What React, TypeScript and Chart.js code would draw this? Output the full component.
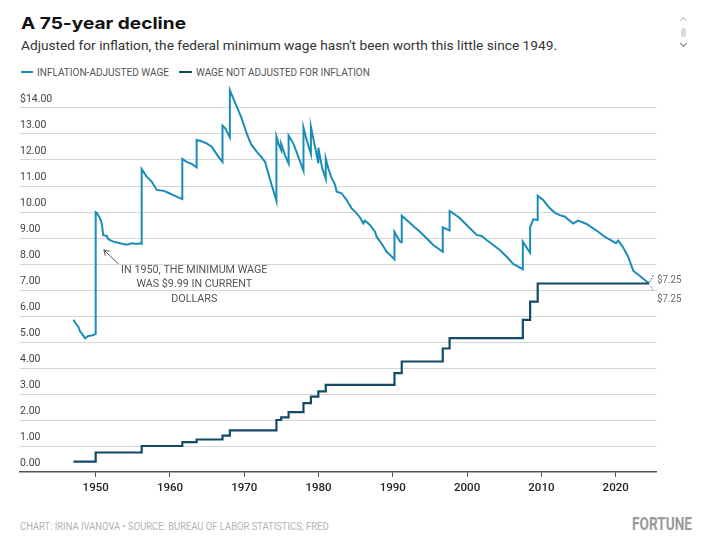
import React, { useEffect, useRef } from 'react';
import { Chart, registerables } from 'chart.js';

Chart.register(...registerables);

// ---------- texts ----------
const TITLE = 'A 75-year decline';
const SUBTITLE = "Adjusted for inflation, the federal minimum wage hasn't been worth this little since 1949.";
const SERIES_NAMES = ['INFLATION-ADJUSTED WAGE', 'WAGE NOT ADJUSTED FOR INFLATION'];
const FOOTER = 'CHART: IRINA IVANOVA • SOURCE: BUREAU OF LABOR STATISTICS; FRED';
const BRAND = 'FORTUNE';
const ANNOTATION_LINES = ['IN 1950, THE MINIMUM WAGE', 'WAS $9.99 IN CURRENT', 'DOLLARS'];
const END_LABEL = '$7.25';

// ---------- data ----------
// Inflation-adjusted federal minimum wage
const adjYears = [
  1947.0, 1947.3, 1947.66, 1947.9, 1948.2, 1948.56, 1949.0, 1949.4, 1949.68, 1950.0,
  1950.0, 1950.13, 1950.58, 1950.81, 1951.02, 1951.48, 1951.7, 1952.37, 1953.27, 1954.17, 1954.85, 1955.52, 1955.96, 1956.19,
  1956.19, 1956.86, 1957.54, 1958.21, 1959.1, 1959.77, 1960.44, 1961.12, 1961.66,
  1961.66, 1962.25, 1962.92, 1963.59,
  1963.59, 1964.04, 1964.94, 1965.61, 1966.06, 1966.5, 1967.07,
  1967.07, 1967.44, 1968.06,
  1968.06, 1968.52, 1969.19, 1969.65, 1970.32, 1970.77, 1970.99, 1971.67, 1972.34, 1972.79, 1973.23, 1973.69, 1974.33,
  1974.33, 1974.67, 1974.97,
  1974.97, 1975.48, 1975.97,
  1975.97, 1976.6, 1977.27, 1977.97,
  1977.97, 1978.4, 1978.97,
  1978.97, 1979.29, 1979.97,
  1979.97, 1980.19, 1980.5, 1980.97,
  1980.97, 1981.31, 1981.76, 1982.21, 1982.44, 1983.11, 1983.78, 1984.45, 1985.13, 1985.6, 1986.02, 1986.24, 1986.92,
  1987.59, 1987.82, 1988.5, 1989.17, 1989.61, 1990.22,
  1990.22, 1990.96, 1991.2,
  1991.2, 1991.86, 1992.75, 1993.65, 1994.55, 1995.44, 1996.72,
  1996.72, 1997.46, 1997.64,
  1997.64, 1998.13, 1999.03, 1999.93, 2001.28, 2001.95, 2002.62, 2003.51, 2004.41, 2005.53, 2006.2, 2006.88, 2007.5,
  2007.5, 2008.22, 2008.48,
  2008.48, 2008.9, 2009.5,
  2009.5, 2010.24, 2011.14, 2011.82, 2012.49, 2013.16, 2014.28, 2014.95, 2016.08, 2016.97, 2017.64, 2018.55, 2019.45,
  2020.03, 2020.34, 2020.93, 2021.68, 2022.36, 2023.26, 2024.5,
];
const adjValues = [
  5.85, 5.72, 5.59, 5.40, 5.30, 5.14, 5.23, 5.25, 5.27, 5.31,
  9.99, 9.97, 9.76, 9.56, 9.11, 9.08, 8.95, 8.86, 8.80, 8.74, 8.80, 8.77, 8.80, 8.77,
  11.65, 11.36, 11.17, 10.85, 10.82, 10.74, 10.65, 10.56, 10.50,
  12.04, 11.93, 11.85, 11.72,
  12.77, 12.74, 12.64, 12.51, 12.32, 12.13, 11.93,
  13.32, 13.22, 12.87,
  14.69, 14.37, 13.92, 13.60, 13.03, 12.70, 12.58, 12.32, 12.10, 11.93, 11.49, 11.04, 10.43,
  12.90, 12.58, 12.38,
  12.62, 12.19, 11.87,
  12.94, 12.64, 12.13, 11.59,
  13.26, 12.77, 12.23,
  13.28, 12.83, 11.87,
  12.47, 12.13, 11.68, 11.27,
  12.06, 11.68, 11.30, 11.06, 10.78, 10.72, 10.46, 10.14, 9.95, 9.78, 9.56, 9.67, 9.50,
  9.24, 9.05, 8.78, 8.47, 8.35, 8.18,
  9.24, 8.86, 8.84,
  9.86, 9.69, 9.46, 9.24, 8.99, 8.73, 8.47,
  9.41, 9.31, 9.29,
  10.04, 9.95, 9.76, 9.50, 9.12, 9.08, 8.92, 8.73, 8.54, 8.22, 8.00, 7.90, 7.80,
  8.86, 8.54, 8.43,
  9.41, 9.72, 9.69,
  10.62, 10.46, 10.14, 9.97, 9.88, 9.82, 9.56, 9.67, 9.54, 9.37, 9.24, 9.04, 8.90,
  8.80, 8.90, 8.67, 8.28, 7.74, 7.54, 7.25,
];

// Nominal federal minimum wage: date of each change and the new rate
const nomYears = [
  1947.0, 1950.0, 1956.19, 1961.66, 1963.59, 1967.07, 1968.06, 1974.33, 1974.97, 1975.97,
  1977.97, 1978.97, 1979.97, 1980.97, 1990.22, 1991.2, 1996.72, 1997.64, 2007.5, 2008.48, 2009.5, 2024.5,
];
const nomValues = [
  0.40, 0.75, 1.00, 1.15, 1.25, 1.40, 1.60, 2.00, 2.10, 2.30,
  2.65, 2.90, 3.10, 3.35, 3.80, 4.25, 4.75, 5.15, 5.85, 6.55, 7.25, 7.25,
];

const yTickValues = [0, 1, 2, 3, 4, 5, 6, 7, 8, 9, 10, 11, 12, 13, 14];
const xTickYears = [1950, 1960, 1970, 1980, 1990, 2000, 2010, 2020];

// ---------- styling ----------
const LIGHT = '#1a8cb8';
const DARK = '#134a68';
const ANNOT_HEAD = [1951.1, 8.54];
const ANNOT_TAIL = [1953.05, 8.0];
const ANNOT_TEXT_AT = [1963.27, 7.665];

let mctx: CanvasRenderingContext2D | null = null;
function measure(font: string, text: string) {
  if (!mctx) mctx = document.createElement('canvas').getContext('2d');
  const c = mctx as CanvasRenderingContext2D;
  c.font = font;
  const m = c.measureText(text);
  return { w: m.width, asc: m.fontBoundingBoxAscent, desc: m.fontBoundingBoxDescent };
}

function Label(props: {
  text: string; family: string; size: number; weight?: number; x: number; baseline: number;
  width?: number; color: string;
}) {
  const { text, family, size, weight = 400, x, baseline, width, color } = props;
  const font = `${weight} ${size}px ${family}`;
  const m = measure(font, text);
  const sx = width ? width / m.w : 1;
  return (
    <div
      style={{
        position: 'absolute',
        left: x,
        top: baseline - m.asc,
        fontFamily: family,
        fontSize: size,
        fontWeight: weight,
        lineHeight: `${m.asc + m.desc}px`,
        color,
        whiteSpace: 'nowrap',
        transform: `scaleX(${sx})`,
        transformOrigin: '0 0',
      }}
    >
      {text}
    </div>
  );
}

const overlayPlugin = {
  id: 'overlay',
  afterDatasetsDraw(chart: any) {
    const { ctx } = chart;
    const xs = chart.scales.x;
    const ys = chart.scales.y;
    ctx.save();
    // annotation arrow
    const hx = xs.getPixelForValue(ANNOT_HEAD[0]);
    const hy = ys.getPixelForValue(ANNOT_HEAD[1]);
    const tx = xs.getPixelForValue(ANNOT_TAIL[0]);
    const ty = ys.getPixelForValue(ANNOT_TAIL[1]);
    ctx.strokeStyle = '#555';
    ctx.lineWidth = 1;
    ctx.setLineDash([]);
    ctx.beginPath();
    ctx.moveTo(tx, ty);
    ctx.lineTo(hx, hy);
    const ang = Math.atan2(hy - ty, hx - tx);
    const L = 6;
    ctx.moveTo(hx - L * Math.cos(ang - 0.55), hy - L * Math.sin(ang - 0.55));
    ctx.lineTo(hx, hy);
    ctx.lineTo(hx - L * Math.cos(ang + 0.55), hy - L * Math.sin(ang + 0.55));
    ctx.stroke();
    // annotation text
    ctx.font = '400 11px Roboto';
    ctx.fillStyle = '#555';
    ctx.textAlign = 'center';
    ctx.textBaseline = 'alphabetic';
    const sx = 146.3 / ctx.measureText(ANNOTATION_LINES[0]).width;
    const cx = xs.getPixelForValue(ANNOT_TEXT_AT[0]);
    const by = ys.getPixelForValue(ANNOT_TEXT_AT[1]);
    ANNOTATION_LINES.forEach((line, i) => {
      ctx.save();
      ctx.translate(cx, by + i * 14.65);
      ctx.scale(sx, 1);
      ctx.fillText(line, 0, 0);
      ctx.restore();
    });
    // end labels
    const meta = chart.getDatasetMeta(1);
    const last = meta.data[meta.data.length - 1];
    const ex = last.x;
    const ey = last.y;
    ctx.lineWidth = 1;
    ctx.setLineDash([1.5, 1.5]);
    ctx.strokeStyle = DARK;
    ctx.beginPath();
    ctx.moveTo(ex + 0.5, ey - 1.5);
    ctx.lineTo(ex + 5, ey - 9.3);
    ctx.stroke();
    ctx.strokeStyle = LIGHT;
    ctx.beginPath();
    ctx.moveTo(ex + 1.5, ey + 2.7);
    ctx.lineTo(ex + 4, ey + 7.4);
    ctx.stroke();
    ctx.setLineDash([]);
    ctx.font = '400 11px Roboto';
    ctx.fillStyle = '#6b6b6b';
    ctx.textAlign = 'left';
    const ls = 24.4 / ctx.measureText(END_LABEL).width;
    [[-0.6], [18.4]].forEach(([dy]) => {
      ctx.save();
      ctx.translate(ex + 8, ey + dy);
      ctx.scale(ls, 1);
      ctx.fillText(END_LABEL, 0, 0);
      ctx.restore();
    });
    ctx.restore();
  },
};

function WageChart() {
  const ref = useRef<HTMLCanvasElement>(null);
  useEffect(() => {
    const chart = new Chart(ref.current as HTMLCanvasElement, {
      type: 'line',
      data: {
        datasets: [
          {
            label: SERIES_NAMES[1],
            data: nomYears.map((x, i) => ({ x, y: nomValues[i] })),
            borderColor: DARK,
            borderWidth: 2.2,
            pointRadius: 0,
            stepped: 'before',
            fill: false,
          },
          {
            label: SERIES_NAMES[0],
            data: adjYears.map((x, i) => ({ x, y: adjValues[i] })),
            borderColor: LIGHT,
            borderWidth: 2,
            pointRadius: 0,
            tension: 0,
            fill: false,
          },
        ],
      },
      options: {
        animation: false,
        responsive: true,
        maintainAspectRatio: false,
        events: [],
        layout: { padding: { left: 20, right: 52.3, top: 6, bottom: 0 } },
        plugins: { legend: { display: false }, tooltip: { enabled: false } },
        scales: {
          x: {
            type: 'linear',
            min: 1939.81,
            max: 2025.52,
            afterBuildTicks: (s: any) => {
              s.ticks = xTickYears.map((v) => ({ value: v }));
            },
            afterFit: (s: any) => {
              s.height = 28;
              s.paddingLeft = 0;
              s.paddingRight = 0;
            },
            grid: { drawOnChartArea: false, drawTicks: true, tickLength: 5, color: '#555', lineWidth: 1 },
            border: { display: true, color: '#555', width: 1.5 },
            ticks: {
              font: { family: 'Roboto', size: 11.5, weight: '500' },
              color: '#222',
              padding: 4,
              maxRotation: 0,
              autoSkip: false,
              callback: (v: any) => String(v),
            },
          },
          y: {
            type: 'linear',
            min: 0,
            max: 15,
            afterBuildTicks: (s: any) => {
              s.ticks = yTickValues.map((v) => ({ value: v }));
            },
            afterFit: (s: any) => {
              s.width = 0;
              s.paddingTop = 0;
              s.paddingBottom = 0;
            },
            grid: {
              drawTicks: false,
              color: (c: any) => (c.tick && c.tick.value === 0 ? 'rgba(0,0,0,0)' : '#d6d6d6'),
              lineWidth: 1,
            },
            border: { display: false },
            ticks: {
              mirror: true,
              padding: 0,
              labelOffset: -9,
              font: { family: 'Roboto', size: 10.5 },
              color: '#444',
              autoSkip: false,
              callback: (v: any) => (v === 14 ? '$14.00' : Number(v).toFixed(2)),
            },
          },
        },
      },
      plugins: [overlayPlugin],
    } as any);
    return () => chart.destroy();
  }, []);
  return <canvas ref={ref} />;
}

function Chevron({ x, y, up, color }: { x: number; y: number; up: boolean; color: string }) {
  return (
    <div
      style={{
        position: 'absolute',
        left: x - 2.5,
        top: y - 2.5,
        width: 4,
        height: 4,
        borderLeft: up ? `1.3px solid ${color}` : 'none',
        borderTop: up ? `1.3px solid ${color}` : 'none',
        borderRight: up ? 'none' : `1.3px solid ${color}`,
        borderBottom: up ? 'none' : `1.3px solid ${color}`,
        transform: 'rotate(45deg)',
      }}
    />
  );
}

export default function App() {
  return (
    <div
      style={{
        position: 'absolute',
        left: 0,
        top: 0,
        width: 709,
        height: 551,
        background: '#fff',
        overflow: 'hidden',
      }}
    >
      <Label text={TITLE} family="Inter" size={16.5} weight={700} x={20.7} baseline={29.3} width={165} color="#111" />
      <Label text={SUBTITLE} family="Roboto" size={13} x={20.5} baseline={50} width={536} color="#333" />

      <div style={{ position: 'absolute', left: 20.7, top: 70.7, width: 12.6, height: 2, background: LIGHT }} />
      <Label text={SERIES_NAMES[0]} family="Roboto" size={11} x={37.3} baseline={76} width={132} color="#555" />
      <div style={{ position: 'absolute', left: 179.3, top: 70.7, width: 12.7, height: 2, background: DARK }} />
      <Label text={SERIES_NAMES[1]} family="Roboto" size={11} x={196} baseline={76} width={174} color="#555" />

      <Chevron x={683.3} y={20} up={true} color="#b8c0c8" />
      <div
        style={{
          position: 'absolute',
          left: 680.8,
          top: 28.3,
          width: 5.4,
          height: 8.6,
          borderRadius: 3,
          background: '#d3dbe4',
        }}
      />
      <Chevron x={683.3} y={43} up={false} color="#777" />

      <div style={{ position: 'absolute', left: 0, top: 76, width: 709, height: 424 }}>
        <WageChart />
      </div>

      <Label text={FOOTER} family="Roboto" size={11} x={20} baseline={530} width={308.6} color="#b3b3b3" />
      <Label text={BRAND} family="Roboto" size={19} weight={700} x={632} baseline={530} width={60} color="#9b9b9b" />
    </div>
  );
}
